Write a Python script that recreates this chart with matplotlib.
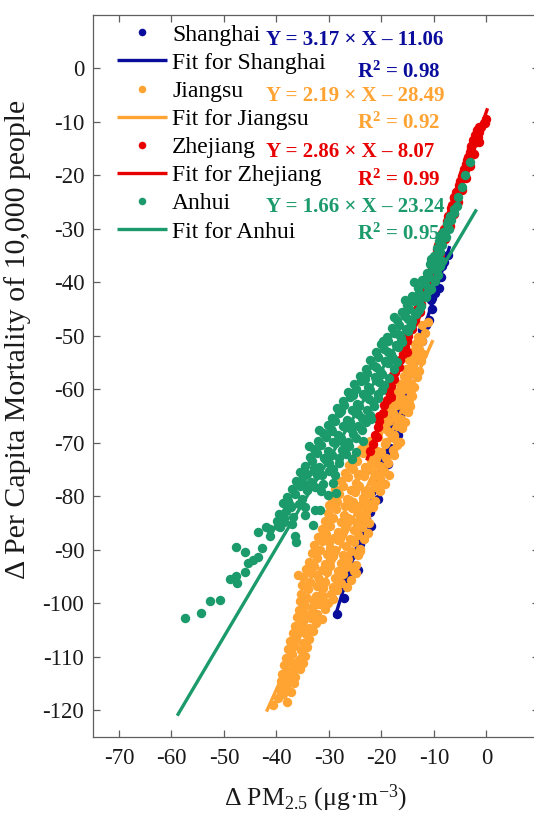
import matplotlib
matplotlib.use("Agg")
import matplotlib.pyplot as plt

plt.rcParams['font.family'] = ['Liberation Serif', 'DejaVu Serif']
plt.rcParams['mathtext.fontset'] = 'custom'
plt.rcParams['mathtext.rm'] = 'Liberation Serif'
plt.rcParams['mathtext.it'] = 'Liberation Serif:italic'
plt.rcParams['mathtext.bf'] = 'Liberation Serif:bold'
plt.rcParams['axes.unicode_minus'] = False

# ---------------- data ----------------
provinces = ["Shanghai", "Jiangsu", "Zhejiang", "Anhui"]
colors = ["#0a0c9c", "#ffa333", "#e80000", "#1b9a6b"]
slopes = [3.17, 2.19, 2.86, 1.66]
intercepts = [-11.06, -28.49, -8.07, -23.24]
r_squared = [0.98, 0.92, 0.99, 0.95]
fit_x_min = [-28.9, -41.9, -22.8, -58.9]
fit_x_max = [-7.0, -10.2, 0.2, -1.9]

shanghai_x = [-28.4, -27.2, -27.5, -26.0, -25.2, -25.6, -24.1, -23.4, -23.7, -22.2,
              -21.6, -21.8, -20.3, -19.7, -19.9, -18.4, -17.8, -18.0, -16.5, -16.0,
              -16.1, -14.6, -14.1, -14.2, -12.8, -12.2, -12.3, -10.9, -10.4, -10.3,
              -9.1, -8.6, -8.4, -7.3, -22.0, -20.6, -18.8, -16.9, -24.4, -15.2,
              -26.6, -23.0, -21.0, -19.2, -17.3, -15.5, -13.5, -11.6, -9.8, -8.0,
              -18.7, -13.7, -10.5]
shanghai_y = [-102.0, -99.0, -97.0, -95.0, -93.0, -91.0, -89.0, -87.0, -85.0, -83.0,
              -81.0, -79.0, -77.0, -75.0, -73.0, -71.0, -69.0, -67.0, -65.0, -63.0,
              -61.0, -59.0, -57.0, -55.0, -53.0, -51.0, -49.0, -47.0, -45.0, -43.0,
              -41.0, -39.0, -37.0, -35.0, -85.5, -80.5, -74.0, -68.5, -93.8, -60.0,
              -95.6, -84.0, -78.0, -72.0, -66.0, -60.5, -54.0, -48.0, -42.0, -36.2,
              -65.7, -54.5, -43.3]

jiangsu_x = [-40.6, -39.8, -38.8,
             -39.4, -38.3, -37.3,
             -39.1, -37.8, -36.6,
             -38.9, -37.6, -36.4, -35.6,
             -38.5, -37.2, -36.0, -35.0,
             -38.2, -37.0, -35.8, -34.5,
             -37.8, -36.6, -35.4, -34.2,
             -37.4, -36.2, -35.0, -33.8,
             -36.9, -35.7, -34.4, -33.1,
             -36.4, -35.1, -33.8, -32.4,
             -36.1, -34.8, -33.5, -32.2, -31.3,
             -35.8, -34.5, -33.2, -31.9, -30.7,
             -35.6, -34.2, -32.9, -31.5, -30.1, -29.2,
             -35.3, -33.9, -32.5, -31.1, -29.7, -28.4,
             -35.1, -33.7, -32.2, -30.7, -29.2, -27.7, -26.6,
             -34.9, -33.4, -31.9, -30.4, -28.9, -27.4, -25.9, -24.9,
             -34.3, -32.8, -31.3, -29.8, -28.3, -26.8, -25.3,
             -33.8, -32.3, -30.8, -29.3, -27.8, -26.3, -24.8,
             -33.3, -31.8, -30.3, -28.8, -27.3, -25.8, -24.4,
             -32.8, -31.3, -29.8, -28.3, -26.8, -25.3, -24.1,
             -32.0, -30.5, -29.0, -27.5, -26.0, -24.5, -23.3,
             -31.3, -29.8, -28.3, -26.8, -25.3, -23.8, -22.6,
             -30.8, -29.3, -27.8, -26.3, -24.8, -23.3, -22.3,
             -30.2, -28.7, -27.2, -25.7, -24.2, -22.8,
             -30.0, -28.5, -27.0, -25.5, -24.0, -22.5, -21.6,
             -29.6, -28.1, -26.6, -25.1, -23.6, -22.1, -21.2,
             -28.8, -27.3, -25.8, -24.3, -22.8, -21.3, -20.2,
             -27.8, -26.3, -24.8, -23.3, -21.8, -20.3, -19.3,
             -27.0, -25.5, -24.0, -22.5, -21.0, -19.5, -18.6,
             -26.2, -24.7, -23.2, -21.7, -20.2, -18.7,
             -25.1, -23.6, -22.1, -20.6, -19.1, -17.7,
             -23.9, -22.4, -20.9, -19.4, -17.9, -17.1,
             -22.2, -20.7, -19.2, -17.7, -16.5,
             -20.6, -19.1, -17.6, -16.1,
             -20.0, -18.5, -17.0, -15.6,
             -19.3, -17.8, -16.3, -15.0,
             -18.5, -17.0, -15.6, -14.5,
             -17.8, -16.3, -14.8, -14.1,
             -17.1, -15.7, -14.4,
             -16.4, -15.0, -13.8,
             -15.8, -14.5, -13.3,
             -15.3, -14.0, -12.9,
             -14.8, -13.5, -12.5,
             -14.2, -12.9, -12.0,
             -13.6, -12.4,
             -13.0, -11.8,
             -11.1, -12.3,
             -37.9, -38.0, -36.8, -35.3, -34.6, -33.0, -31.1, -28.2, -26.2, -24.0,
             -30.0, -27.0, -23.0, -26.1, -23.2, -20.7, -24.5, -22.0, -20.0, -18.6,
             -17.3, -16.0, -15.2, -13.9, -13.1, -12.2, -32.2, -29.8, -35.9]
jiangsu_y = [-119.0, -117.8, -117.0,
             -116.2, -115.5, -116.6,
             -114.6, -114.0, -114.9,
             -113.3, -112.6, -113.7, -112.2,
             -111.6, -111.0, -111.8, -111.1,
             -110.2, -109.5, -110.6, -109.8,
             -108.6, -108.0, -108.8, -108.1,
             -107.1, -106.4, -107.5, -106.6,
             -105.6, -105.0, -105.8, -105.1,
             -104.2, -103.5, -104.6, -103.7,
             -102.6, -102.0, -102.8, -102.1, -102.9,
             -101.3, -100.5, -101.6, -100.2, -101.1,
             -99.6, -99.0, -99.8, -99.1, -99.9, -99.2,
             -98.2, -97.4, -98.6, -97.2, -98.3, -97.6,
             -96.6, -96.0, -96.8, -96.1, -96.9, -96.2, -97.0,
             -95.1, -94.4, -95.5, -94.1, -95.3, -94.6, -95.6, -94.3,
             -93.6, -93.0, -93.8, -93.1, -93.9, -93.2, -94.0,
             -92.3, -91.5, -92.6, -91.2, -92.4, -91.7, -92.8,
             -90.6, -90.0, -90.8, -90.1, -90.9, -90.2, -91.0,
             -89.1, -88.4, -89.6, -88.2, -89.3, -88.6, -89.8,
             -87.6, -87.0, -87.8, -87.1, -87.9, -87.2, -88.0,
             -86.2, -85.5, -86.7, -85.3, -86.4, -85.7, -86.8,
             -84.6, -84.0, -84.8, -84.1, -84.9, -84.2, -85.0,
             -83.1, -82.4, -83.5, -82.2, -83.3, -82.6,
             -81.6, -81.0, -81.8, -81.1, -81.9, -81.2, -82.0,
             -80.2, -79.5, -80.6, -79.2, -80.3, -79.6, -80.9,
             -78.6, -78.0, -78.8, -78.1, -78.9, -78.2, -79.0,
             -77.1, -76.4, -77.5, -76.2, -77.3, -76.6, -77.8,
             -75.6, -75.0, -75.8, -75.1, -75.9, -75.2, -76.0,
             -74.2, -73.5, -74.6, -73.3, -74.4, -73.7,
             -72.6, -72.0, -72.8, -72.1, -72.9, -72.2,
             -71.1, -70.4, -71.5, -70.2, -71.3, -70.5,
             -69.6, -69.0, -69.8, -69.1, -69.9,
             -68.2, -67.5, -68.6, -67.3,
             -66.6, -66.0, -66.8, -66.1,
             -65.1, -64.4, -65.5, -64.2,
             -63.6, -63.0, -63.8, -63.1,
             -62.2, -61.5, -62.6, -61.2,
             -60.6, -60.0, -60.8,
             -59.1, -58.4, -59.5,
             -57.6, -57.0, -57.8,
             -56.2, -55.5, -56.6,
             -54.6, -54.0, -54.8,
             -53.1, -52.4, -53.5,
             -51.6, -51.0,
             -50.2, -49.5,
             -47.4, -48.0,
             -118.5, -115.2, -112.4, -110.3, -104.9, -100.6, -98.6, -95.9, -93.0, -90.3,
             -88.5, -86.0, -83.7, -80.7, -79.3, -77.9, -76.0, -74.0, -71.8, -68.0,
             -65.3, -62.3, -59.8, -56.9, -54.2, -50.9, -94.7, -91.8, -94.8]

zhejiang_x = [-22.2, -21.6, -21.3, -20.6, -20.4, -19.7, -19.6, -18.9, -18.5, -18.2,
              -17.6, -17.4, -16.7, -16.5, -15.9, -15.6, -15.1, -14.9, -14.2, -14.0,
              -13.4, -13.2, -12.5, -12.3, -11.8, -11.5, -11.0, -10.6, -10.3, -9.8,
              -9.6, -9.0, -8.8, -8.2, -8.1, -7.5, -7.3, -6.7, -6.6, -6.0,
              -5.8, -5.3, -5.0, -4.6, -4.3, -3.9, -3.6, -3.2, -2.9, -2.5,
              -2.1, -1.8, -1.4, -1.0, -0.5, 0.0, -6.2, -4.1, -2.4, -9.4,
              -11.2, -13.7, -3.3, -1.6, -5.4,
              -20.8, -20.4, -18.1, -17.8, -15.1, -15.0, -12.6, -12.8, -11.0, -11.3,
              -9.8, -10.3, -8.9, -9.2, -7.9, -8.5, -7.0, -7.6, -6.2, -6.8,
              -5.4, -6.1, -4.7, -5.3, -3.9, -4.5, -3.1, -3.7, -2.3, -2.9,
              -1.5, -2.2, -1.4, -0.3]
zhejiang_y = [-71.5, -70.2, -68.5, -67.0, -66.0, -64.5, -63.0, -62.1, -60.5, -59.4,
              -58.0, -56.8, -55.9, -54.6, -53.5, -52.2, -51.0, -50.1, -48.7, -47.6,
              -46.4, -45.0, -44.1, -42.8, -41.7, -40.5, -39.5, -38.0, -37.1, -35.8,
              -34.9, -33.4, -32.5, -31.2, -30.0, -29.1, -27.7, -26.8, -25.5, -24.6,
              -23.2, -22.3, -21.0, -20.1, -18.9, -17.9, -16.6, -15.7, -14.5, -13.5,
              -12.4, -11.5, -11.9, -10.9, -10.3, -9.5, -24.3, -19.0, -14.0, -34.0,
              -40.0, -47.0, -17.0, -12.8, -23.0,
              -69.0, -65.0, -61.5, -57.3, -53.0, -49.3, -45.6, -43.0, -41.0, -39.0,
              -37.5, -36.0, -35.0, -33.0, -32.0, -30.8, -29.5, -28.5, -27.2, -26.2,
              -25.0, -24.0, -22.8, -21.8, -20.6, -19.6, -18.3, -17.2, -16.0, -15.0,
              -13.8, -13.0, -11.0, -10.2]

anhui_x = [-57.4, -54.3, -52.6, -50.7, -48.9, -47.8, -47.5, -46.0, -45.4, -44.4,
           -43.5, -47.7, -46.0, -43.6, -41.9, -42.7, -41.3, -39.4, -36.5, -36.2,
           -35.7, -34.6, -32.7, -31.8, -33.0, -30.2, -28.6, -29.2,
           -41.2, -39.8, -38.6,
           -39.9, -38.5, -37.0,
           -39.6, -38.2, -36.9, -37.4,
           -38.7, -37.3, -35.8, -34.6,
           -38.0, -36.4, -35.1, -34.2,
           -37.1, -35.6, -34.1, -32.7, -31.6,
           -36.3, -34.9, -33.4, -32.2, -31.2,
           -35.6, -34.2, -32.8, -31.4, -30.0, -28.8,
           -34.6, -33.2, -31.9, -30.5, -29.2, -28.1,
           -33.7, -32.3, -30.9, -29.5, -28.1, -26.7, -25.6,
           -32.8, -31.5, -30.2, -28.9, -27.5, -26.1, -24.8,
           -32.0, -30.6, -29.2, -27.8, -26.4, -24.9, -23.6,
           -31.1, -29.7, -28.3, -26.9, -25.4, -23.8,
           -30.2, -28.8, -27.4, -26.0, -24.5, -23.0,
           -29.4, -28.0, -26.6, -25.1, -23.7, -22.2,
           -28.5, -27.1, -25.7, -24.2, -22.8, -21.4,
           -27.4, -26.0, -24.6, -23.2, -21.7, -20.6,
           -26.3, -24.9, -23.5, -22.1, -20.7, -19.9,
           -25.3, -23.9, -22.5, -21.0, -19.6,
           -24.1, -22.7, -21.3, -19.9, -18.6,
           -23.0, -21.6, -20.2, -18.7, -17.6,
           -22.1, -20.7, -19.3, -17.9, -17.0,
           -21.0, -19.6, -18.2, -16.8,
           -20.0, -18.7, -17.3, -16.0,
           -19.0, -17.6, -16.2, -15.0,
           -18.0, -16.7, -15.4, -14.3,
           -17.0, -15.6, -14.2, -13.4,
           -16.1, -14.8, -13.6, -12.8,
           -15.2, -13.8, -12.4,
           -14.1, -12.9, -11.6,
           -13.1, -11.8, -10.6,
           -12.3, -11.0, -9.9,
           -11.4, -10.2, -9.3,
           -10.8, -9.6, -8.9,
           -10.0, -8.8, -8.4,
           -9.5, -8.4,
           -9.0, -7.8,
           -8.3, -7.2,
           -7.6, -6.7,
           -7.0, -6.1,
           -6.2, -5.7,
           -5.4, -4.6, -4.0, -3.2,
           -37.8, -35.0, -32.9, -30.0, -27.2, -29.5, -25.8, -27.7, -24.4, -25.4,
           -22.3, -23.2, -20.4, -21.0, -18.8, -19.7, -16.9, -17.7, -14.9, -15.5,
           -13.0, -13.9, -11.2, -10.5, -9.2, -8.7, -7.4, -33.8, -31.9, -22.0]
anhui_y = [-102.7, -101.8, -99.6, -99.4, -95.5, -94.9, -96.3, -94.1, -92.5, -91.9,
           -91.3, -89.4, -90.4, -86.7, -85.8, -89.7, -87.5, -85.7, -87.5, -88.5,
           -77.6, -83.5, -82.6, -82.6, -85.4, -79.8, -79.4, -77.6,
           -86.1, -85.5, -84.8,
           -84.6, -84.0, -85.1,
           -83.4, -82.8, -83.9, -81.6,
           -81.3, -82.0, -81.4, -82.1,
           -80.2, -79.6, -80.6, -78.9,
           -78.6, -78.0, -78.9, -78.2, -79.0,
           -77.1, -76.4, -77.3, -76.0, -77.8,
           -75.4, -75.9, -75.2, -76.0, -75.3, -76.1,
           -74.3, -73.5, -74.6, -73.2, -74.9, -73.8,
           -72.6, -72.0, -72.9, -72.2, -72.8, -72.1, -73.0,
           -71.2, -70.4, -71.6, -70.1, -71.3, -70.6, -71.8,
           -69.6, -69.0, -69.8, -69.2, -69.9, -69.1, -69.7,
           -68.2, -67.4, -68.6, -67.1, -68.3, -67.6,
           -66.6, -66.0, -66.8, -66.1, -66.9, -66.2,
           -65.3, -64.5, -65.7, -64.2, -65.4, -64.8,
           -63.6, -63.0, -63.8, -63.1, -63.9, -63.2,
           -62.2, -61.5, -62.7, -61.3, -62.4, -61.6,
           -60.6, -60.0, -60.8, -60.1, -60.9, -60.2,
           -59.1, -58.4, -59.6, -58.2, -59.3,
           -57.6, -57.0, -57.8, -57.1, -57.9,
           -56.2, -55.4, -56.6, -55.1, -56.3,
           -54.6, -54.0, -54.8, -54.1, -54.9,
           -53.1, -52.4, -53.5, -52.2,
           -51.6, -51.0, -51.8, -51.1,
           -50.2, -49.4, -50.5, -49.1,
           -48.6, -48.0, -48.8, -48.1,
           -47.1, -46.4, -47.3, -45.9,
           -45.6, -45.0, -45.8, -45.2,
           -44.2, -43.5, -44.4,
           -42.6, -42.0, -42.8,
           -41.1, -40.4, -41.3,
           -39.6, -39.0, -39.8,
           -38.2, -37.5, -38.6,
           -36.6, -36.0, -37.0,
           -35.1, -34.4, -36.0,
           -33.6, -33.0,
           -32.3, -31.5,
           -30.6, -30.0,
           -29.2, -28.4,
           -27.6, -27.0,
           -26.3, -25.7,
           -24.0, -22.2, -20.0, -17.5,
           -80.9, -77.8, -74.8, -73.7, -70.0, -67.9, -67.5, -64.0, -64.6, -61.0,
           -61.9, -58.0, -58.7, -55.8, -53.0, -50.9, -49.6, -46.5, -46.9, -43.4,
           -43.2, -40.0, -41.7, -35.6, -34.8, -31.1, -28.6, -70.6, -67.6, -65.5]

xs = [shanghai_x, jiangsu_x, zhejiang_x, anhui_x]
ys = [shanghai_y, jiangsu_y, zhejiang_y, anhui_y]

# ---------------- figure ----------------
W, H = 534, 817
fig = plt.figure(figsize=(W / 100, H / 100), dpi=100)
ax_l, ax_r, ax_t, ax_b = 92.7, 539.0, 14.7, 737.0
ax = fig.add_axes([ax_l / W, (H - ax_b) / H, (ax_r - ax_l) / W, (ax_b - ax_t) / H])

for i, name in enumerate(provinces):
    ax.plot(xs[i], ys[i], 'o', ms=6.8, color=colors[i], mec='none', label=name)
    fx = [fit_x_min[i], fit_x_max[i]]
    fy = [slopes[i] * v + intercepts[i] for v in fx]
    ax.plot(fx, fy, '-', lw=2.4, color=colors[i], solid_capstyle='butt',
            label="Fit for " + name)

ax.set_xlim(-75, 10)
ax.set_ylim(-125, 10)
ax.set_xticks(range(-70, 1, 10))
ax.set_yticks(range(-120, 1, 10))

for sp in ax.spines.values():
    sp.set_color('#5f5f5f')
    sp.set_linewidth(0.9)
ax.tick_params(direction='in', length=5, width=0.9, color='#5f5f5f',
               top=True, right=True, labelsize=16.5, labelcolor='#1a1a1a')
ax.tick_params(axis='x', pad=8)
ax.tick_params(axis='y', pad=6)

ax.set_xlabel(r'$\Delta$ PM$_{2.5}$ (μg·m$^{-3}$)', fontsize=18.5, color='#1a1a1a',
              labelpad=10)
ax.set_ylabel('Δ Per Capita Mortality of 10,000 people', fontsize=21.5, color='#1a1a1a')
ax.yaxis.set_label_coords(-0.138, 0.55)

leg = ax.legend(loc='upper left', bbox_to_anchor=(0.055, 0.987), frameon=False,
                fontsize=17, handlelength=2.1, handletextpad=0.22, labelspacing=0.28,
                borderpad=0, borderaxespad=0, numpoints=1, markerscale=0.8)

# regression equations and goodness of fit
eq_y = [5.3, -5.2, -15.6, -25.9]
r2_y = [-0.7, -10.2, -20.9, -31.0]
for i in range(4):
    ax.text(-42.0, eq_y[i], f'Y = {slopes[i]:.2f} × X – {abs(intercepts[i]):.2f}',
            color=colors[i], fontsize=15, fontweight='bold', va='center', ha='left')
    ax.text(-24.7, r2_y[i], r'R$^\mathbf{2}$' + f' = {r_squared[i]:.2f}',
            color=colors[i], fontsize=15, fontweight='bold', va='center', ha='left')

fig.savefig('out.png', dpi=100)
